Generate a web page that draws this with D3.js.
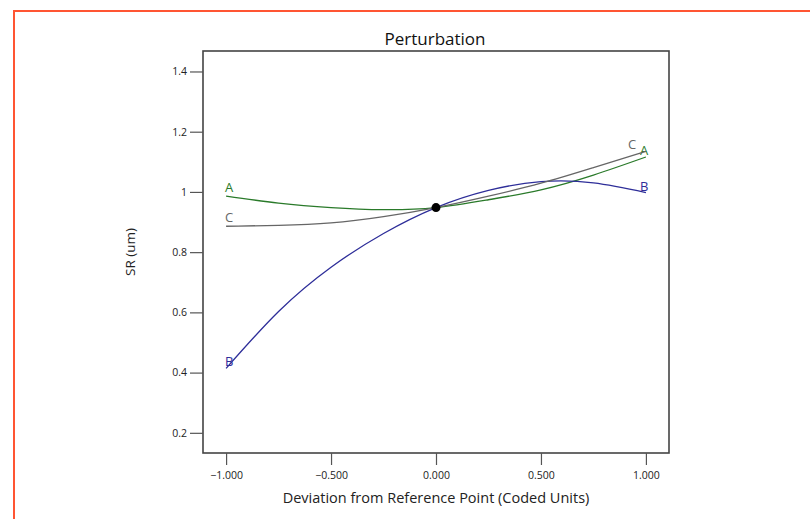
<!DOCTYPE html>
<html>
<head>
<meta charset="utf-8">
<script src="https://cdn.jsdelivr.net/npm/d3@7"></script>
<style>
  body { margin: 0; background: #fff; }
  svg text { font-family: "Open Sans", "Noto Sans", sans-serif; }
</style>
</head>
<body>
<div id="chart"></div>
<script>
// deviation from reference point (coded units)
var deviations = [-1, -0.75, -0.5, -0.25, 0, 0.25, 0.5, 0.75, 1];
// SR (um)
var factorA = [0.986, 0.963, 0.948, 0.941, 0.948, 0.974, 1.007, 1.056, 1.116];
var factorB = [0.414, 0.603, 0.750, 0.862, 0.948, 1.005, 1.034, 1.030, 0.998];
var factorC = [0.886, 0.889, 0.897, 0.918, 0.948, 0.986, 1.029, 1.081, 1.135];
var refPoint = [0, 0.948];
var xTicks = [-1, -0.5, 0, 0.5, 1];
var yTicks = [0.2, 0.4, 0.6, 0.8, 1, 1.2, 1.4];

var width = 810, height = 519;
var plot = {left: 203, right: 669, top: 51, bottom: 453};

var svg = d3.select("#chart").append("svg")
    .attr("width", width)
    .attr("height", height);

// orange page border
svg.append("path")
    .attr("d", "M14," + height + "V11H" + width)
    .attr("fill", "none")
    .attr("stroke", "#ff5533")
    .attr("stroke-width", 2);

var x = d3.scaleLinear().domain([-1.11, 1.11]).range([plot.left, plot.right]);
var y = d3.scaleLinear().domain([0.133, 1.468]).range([plot.bottom, plot.top]);

// frame
svg.append("rect")
    .attr("x", plot.left)
    .attr("y", plot.top)
    .attr("width", plot.right - plot.left)
    .attr("height", plot.bottom - plot.top)
    .attr("fill", "none")
    .attr("stroke", "#444")
    .attr("stroke-width", 1.6);

// axes
var xAxis = svg.append("g")
    .attr("transform", "translate(0," + plot.bottom + ")")
    .call(d3.axisBottom(x).tickValues(xTicks).tickSize(12).tickPadding(7)
        .tickFormat(d3.format(".3f")));

var yAxis = svg.append("g")
    .attr("transform", "translate(" + plot.left + ",0)")
    .call(d3.axisLeft(y).tickValues(yTicks).tickSize(13).tickPadding(3)
        .tickFormat(function(d) { return d === 1 ? "1" : d3.format(".1f")(d); }));

[xAxis, yAxis].forEach(function(g) {
    g.select(".domain").remove();
    g.selectAll(".tick line").attr("stroke", "#555").attr("stroke-width", 1.2);
    g.selectAll(".tick text").attr("fill", "#222").style("font-size", "10.5px");
});

// titles
svg.append("text")
    .attr("x", 435).attr("y", 45)
    .attr("text-anchor", "middle")
    .style("font-size", "17px")
    .attr("fill", "#111")
    .text("Perturbation");

svg.append("text")
    .attr("x", 436).attr("y", 503)
    .attr("text-anchor", "middle")
    .style("font-size", "14.5px")
    .attr("fill", "#222")
    .text("Deviation from Reference Point (Coded Units)");

svg.append("text")
    .attr("transform", "translate(135," + ((plot.top + plot.bottom) / 2) + ") rotate(-90)")
    .attr("text-anchor", "middle")
    .style("font-size", "13.5px")
    .attr("fill", "#222")
    .text("SR (um)");

// curves
var series = [
    {name: "A", values: factorA, color: "#2a7a2a", dy: [-4, -2], dx: [-1, -6]},
    {name: "B", values: factorB, color: "#2e2e99", dy: [-2, -2], dx: [-1, -6]},
    {name: "C", values: factorC, color: "#666666", dy: [-4, -2], dx: [-1, -18]}
];

var line = d3.line()
    .x(function(d) { return x(d[0]); })
    .y(function(d) { return y(d[1]); })
    .curve(d3.curveNatural);

series.forEach(function(s) {
    var pts = deviations.map(function(d, i) { return [d, s.values[i]]; });
    svg.append("path")
        .datum(pts)
        .attr("d", line)
        .attr("fill", "none")
        .attr("stroke", s.color)
        .attr("stroke-width", 1.3);

    var first = pts[0], last = pts[pts.length - 1];
    svg.append("text")
        .attr("x", x(first[0]) + s.dx[0])
        .attr("y", y(first[1]) + s.dy[0])
        .style("font-size", "13px")
        .attr("fill", s.color)
        .text(s.name);
    svg.append("text")
        .attr("x", x(last[0]) + s.dx[1])
        .attr("y", y(last[1]) + s.dy[1])
        .style("font-size", "13px")
        .attr("fill", s.color)
        .text(s.name);
});

// reference point
svg.append("circle")
    .attr("cx", x(refPoint[0]))
    .attr("cy", y(refPoint[1]))
    .attr("r", 4.5)
    .attr("fill", "#000");
</script>
</body>
</html>
